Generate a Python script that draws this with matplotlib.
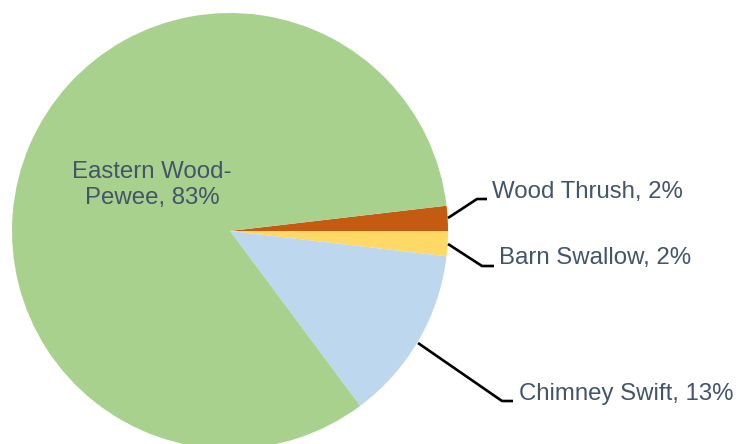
import matplotlib
matplotlib.use('Agg')
import matplotlib.pyplot as plt

# bird counts (order: clockwise from just above 3 o'clock)
species = ['Wood Thrush', 'Barn Swallow', 'Chimney Swift', 'Eastern Wood-\nPewee']
counts = [1, 1, 7, 45]
colors = ['#C55A11', '#FFD966', '#BDD7EE', '#A9D18E']

total = sum(counts)
pcts = [100.0 * c / total for c in counts]
labels = ['%s, %d%%' % (s, round(p)) for s, p in zip(species, pcts)]

plt.rcParams['font.family'] = ['Liberation Sans', 'DejaVu Sans']
txt_color = '#44546A'

fig = plt.figure(figsize=(7.37, 4.44), dpi=100)
ax = fig.add_axes([0, 0, 1, 1])

cx, cy, r = 230, 213, 218
ax.pie(counts, colors=colors, startangle=360.0 * counts[0] / total,
       counterclock=False, center=(cx, cy), radius=r,
       wedgeprops=dict(linewidth=0), frame=True)
ax.set_xlim(0, 737)
ax.set_ylim(0, 444)
ax.set_aspect('equal')
ax.axis('off')

fs = 17.3
# inside label
ax.text(152, 259, labels[3], ha='center', va='center', fontsize=fs,
        color=txt_color, linespacing=1.25)

# outside labels with leader lines
leaders = [
    ([448, 477, 487], [226, 245, 245], (492, 252)),
    ([448, 482, 494], [200, 178, 178], (499, 186)),
    ([418, 502, 513], [101, 43, 43], (519, 50)),
]
for (xs, ys, (tx, ty)), lab in zip(leaders, labels[:3]):
    ax.plot(xs, ys, color='black', lw=1.9, solid_capstyle='butt')
    ax.text(tx, ty, lab, ha='left', va='center', fontsize=fs, color=txt_color)

fig.savefig('out.png', dpi=100, facecolor='white')
